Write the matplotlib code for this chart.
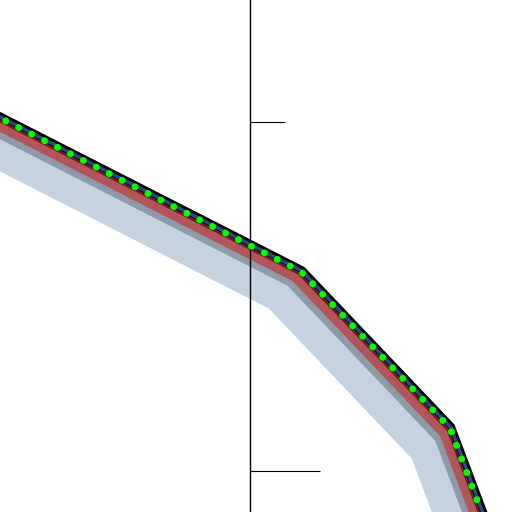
import matplotlib
matplotlib.use("Agg")
import matplotlib.pyplot as plt
import matplotlib.patheffects as pe
from matplotlib.ticker import FixedLocator, NullFormatter

# data (axis units)
x_vals = [-280, 51, 200, 250]
y_vals = [368.3, 199.5, 43, -90]
major_ticks = [0]
minor_ticks = [349]

# layer styles: (colour, linewidth pt, offset pt along the down-left diagonal)
layers = [
    ("#c5d3e0", 33.8, 12.9),   # wide light shadow
    ("#8d9ba8", 8.6, 6.9),     # grey shadow of the red band
    ("#b3545a", 8.4, 3.5),     # red band
    ("#6e1c20", 2.9, 1.1),     # dark red edge
    ("black", 5.0, -1.1),      # black outline
]


def main():
    fig = plt.figure(figsize=(5.12, 5.12), dpi=100)
    ax = fig.add_axes([0, 0, 1, 1])

    effects = [pe.Stroke(offset=(-o, -o), linewidth=lw, foreground=c)
               for c, lw, o in layers]
    ax.plot(x_vals, y_vals, color="#2a4a7c", lw=2.5,
            path_effects=effects + [pe.Stroke(offset=(0.55, 0.55), linewidth=2.5,
                                              foreground="#2a4a7c")])
    # green dotted line on top
    ax.plot(x_vals, y_vals, color="#00ff00", lw=5.0,
            linestyle=(1.0, (0.01, 2.08)), dash_capstyle="round", zorder=3)

    ax.set_xlim(-250, 262)
    ax.set_ylim(-41, 471)

    for side in ["top", "right", "bottom"]:
        ax.spines[side].set_visible(False)
    ax.spines["left"].set_position(("data", 0))
    ax.spines["left"].set_linewidth(1.0)

    ax.xaxis.set_visible(False)
    ax.yaxis.set_major_locator(FixedLocator(major_ticks))
    ax.yaxis.set_minor_locator(FixedLocator(minor_ticks))
    ax.yaxis.set_major_formatter(NullFormatter())
    ax.yaxis.set_minor_formatter(NullFormatter())
    ax.tick_params(axis="y", which="major", direction="in", length=50.4, width=0.8)
    ax.tick_params(axis="y", which="minor", direction="in", length=25.2, width=0.8)

    fig.savefig("out.png", dpi=100)


if __name__ == "__main__":
    main()
